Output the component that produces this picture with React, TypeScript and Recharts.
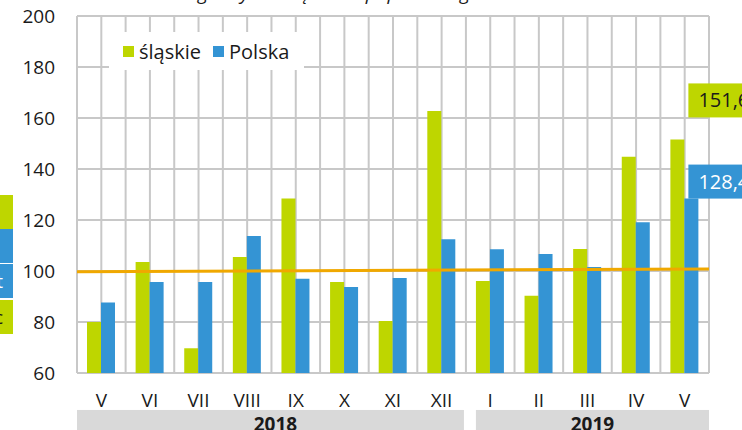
import React from 'react';
import { ComposedChart, Bar, XAxis, YAxis, CartesianGrid, ReferenceLine, ReferenceArea, LabelList } from 'recharts';

// months, May 2018 - May 2019
const months = ['V', 'VI', 'VII', 'VIII', 'IX', 'X', 'XI', 'XII', 'I', 'II', 'III', 'IV', 'V'];
const monthYear = ['2018', '2018', '2018', '2018', '2018', '2018', '2018', '2018', '2019', '2019', '2019', '2019', '2019'];
const slaskie = [80, 103.5, 69.7, 105.5, 128.4, 95.7, 80.4, 162.7, 96.1, 90.3, 108.6, 144.8, 151.6];
const polska = [87.6, 95.7, 95.7, 113.7, 97, 93.7, 97.3, 112.5, 108.5, 106.7, 101.6, 119.1, 128.4];
const yTicks = [60, 80, 100, 120, 140, 160, 180, 200];
const yearLabels = ['2018', '2019'];
// orange base line (previous year = 100), value at left and right edge of the plot
const baseLine = [99.7, 100.8];

const GREEN = '#BED600';
const BLUE = '#3494D4';
const FONT = '"Open Sans", "Noto Sans", sans-serif';

const data = months.map((m, i) => ({ key: `${m} ${monthYear[i]}`, slaskie: slaskie[i], polska: polska[i] }));
const last = data.length - 1;
const n = data.length;

// base line value at category centres (first / last)
const lineAtFirst = baseLine[0] + ((baseLine[1] - baseLine[0]) * 0.5) / n;
const lineAtLast = baseLine[0] + ((baseLine[1] - baseLine[0]) * (n - 0.5)) / n;

// stretch the centre-to-centre segment out to the plot edges (half a band on each side)
const EdgeLine = (props: any) => {
  const { x1, y1, x2, y2 } = props;
  const t = 0.5 / (n - 1);
  const dx = (x2 - x1) * t;
  const dy = (y2 - y1) * t;
  return <line x1={x1 - dx} y1={y1 - dy} x2={x2 + dx} y2={y2 + dy} stroke="#F0A800" strokeWidth={3} />;
};

// value box next to the last bar
const makeLastLabel = (fill: string, textFill: string, fromRight: boolean, dy: number) => (props: any) => {
  const { x, y, width, value, index } = props;
  if (index !== last) return null;
  const bx = Number(x) + (fromRight ? Number(width) : 0) + 4;
  const by = Number(y) + dy;
  return (
    <g>
      <rect x={bx} y={by} width={70} height={34} fill={fill} />
      <text x={bx + 10} y={by + 24} fill={textFill} fontSize={20} fontFamily={FONT}>
        {String(value).replace('.', ',')}
      </text>
    </g>
  );
};

const makeYearBand = (insetLeft: number, insetRight: number) => (props: any) => {
  const { x, y, width, height } = props;
  return <rect x={x + insetLeft} y={y} width={width - insetLeft - insetRight} height={height} fill="#D9D9D9" />;
};

const ChartLegend = () => (
  <div style={{ position: 'absolute', left: 109, top: 32, width: 195, height: 38, background: '#fff', display: 'flex', alignItems: 'center', fontFamily: FONT, fontSize: 20, color: '#1a1a1a' }}>
    <span style={{ width: 11, height: 11, background: GREEN, marginLeft: 14, marginRight: 5 }} />
    <span>śląskie</span>
    <span style={{ width: 11, height: 11, background: BLUE, marginLeft: 12, marginRight: 5 }} />
    <span>Polska</span>
  </div>
);

const SideBox = ({ top, color, text, textColor }: { top: number; color: string; text: string; textColor: string }) => (
  <div style={{ position: 'absolute', left: -80, top, width: 93, height: 34, background: color, color: textColor, fontFamily: FONT, fontSize: 19, lineHeight: '34px', textAlign: 'right', paddingRight: 10, boxSizing: 'border-box', overflow: 'hidden' }}>
    {text}
  </div>
);

export default function App() {
  const firstOf = (yr: string) => data[monthYear.indexOf(yr)].key;
  const lastOf = (yr: string) => data[monthYear.lastIndexOf(yr)].key;
  return (
    <div style={{ position: 'fixed', left: 0, top: 0, width: 742, height: 430, overflow: 'hidden', background: '#fff' }}>
      <div style={{ position: 'absolute', left: 150, top: -20, fontFamily: FONT, fontStyle: 'italic', fontSize: 19, whiteSpace: 'nowrap', color: '#1a1a1a' }}>
        analogiczny miesiąc roku poprzedniego = 100
      </div>
      <SideBox top={195} color={GREEN} text="" textColor="#1a1a1a" />
      <SideBox top={229} color={BLUE} text="" textColor="#fff" />
      <SideBox top={264} color={BLUE} text="t" textColor="#fff" />
      <SideBox top={300} color={GREEN} text="c" textColor="#1a1a1a" />
      <ComposedChart width={742} height={430} data={data} margin={{ top: 16, right: 33, bottom: 0, left: 0 }} barGap={0} barSize={14}>
        <CartesianGrid
          stroke="#C8C8C8"
          strokeWidth={2}
          verticalCoordinatesGenerator={({ offset }: any) =>
            Array.from({ length: n * 2 + 1 }, (_, i) => offset.left + (i * offset.width) / (n * 2))
          }
        />
        <XAxis
          dataKey="key"
          axisLine={false}
          tickLine={false}
          tickMargin={15}
          height={57}
          interval={0}
          tickFormatter={(v: string) => v.split(' ')[0]}
          tick={{ fontSize: 19, fontFamily: FONT, fill: '#1a1a1a' }}
        />
        <YAxis domain={[60, 200]} ticks={yTicks} axisLine={false} tickLine={false} tickMargin={16} width={77} tick={{ fontSize: 19, fontFamily: FONT, fill: '#1a1a1a' }} />
        <Bar dataKey="slaskie" name="śląskie" fill={GREEN} isAnimationActive={false}>
          <LabelList dataKey="slaskie" content={makeLastLabel(GREEN, '#1a1a1a', true, -56)} />
        </Bar>
        <Bar dataKey="polska" name="Polska" fill={BLUE} isAnimationActive={false}>
          <LabelList dataKey="polska" content={makeLastLabel(BLUE, '#fff', false, -34)} />
        </Bar>
        <ReferenceLine
          segment={[{ x: data[0].key, y: lineAtFirst }, { x: data[last].key, y: lineAtLast }]}
          ifOverflow="visible"
          shape={EdgeLine}
        />
        {yearLabels.map((yr, i) => (
          <ReferenceArea
            key={yr}
            x1={firstOf(yr)}
            x2={lastOf(yr)}
            y1={45.5}
            y2={35}
            ifOverflow="visible"
            shape={makeYearBand(i > 0 ? 10 : 0, i === 0 ? 2 : 0)}
            label={{ value: yr, position: 'center', fill: '#1a1a1a', fontSize: 19, fontWeight: 700, fontFamily: FONT, dy: 1, dx: i > 0 ? 5 : 4 }}
          />
        ))}
      </ComposedChart>
      <ChartLegend />
    </div>
  );
}
